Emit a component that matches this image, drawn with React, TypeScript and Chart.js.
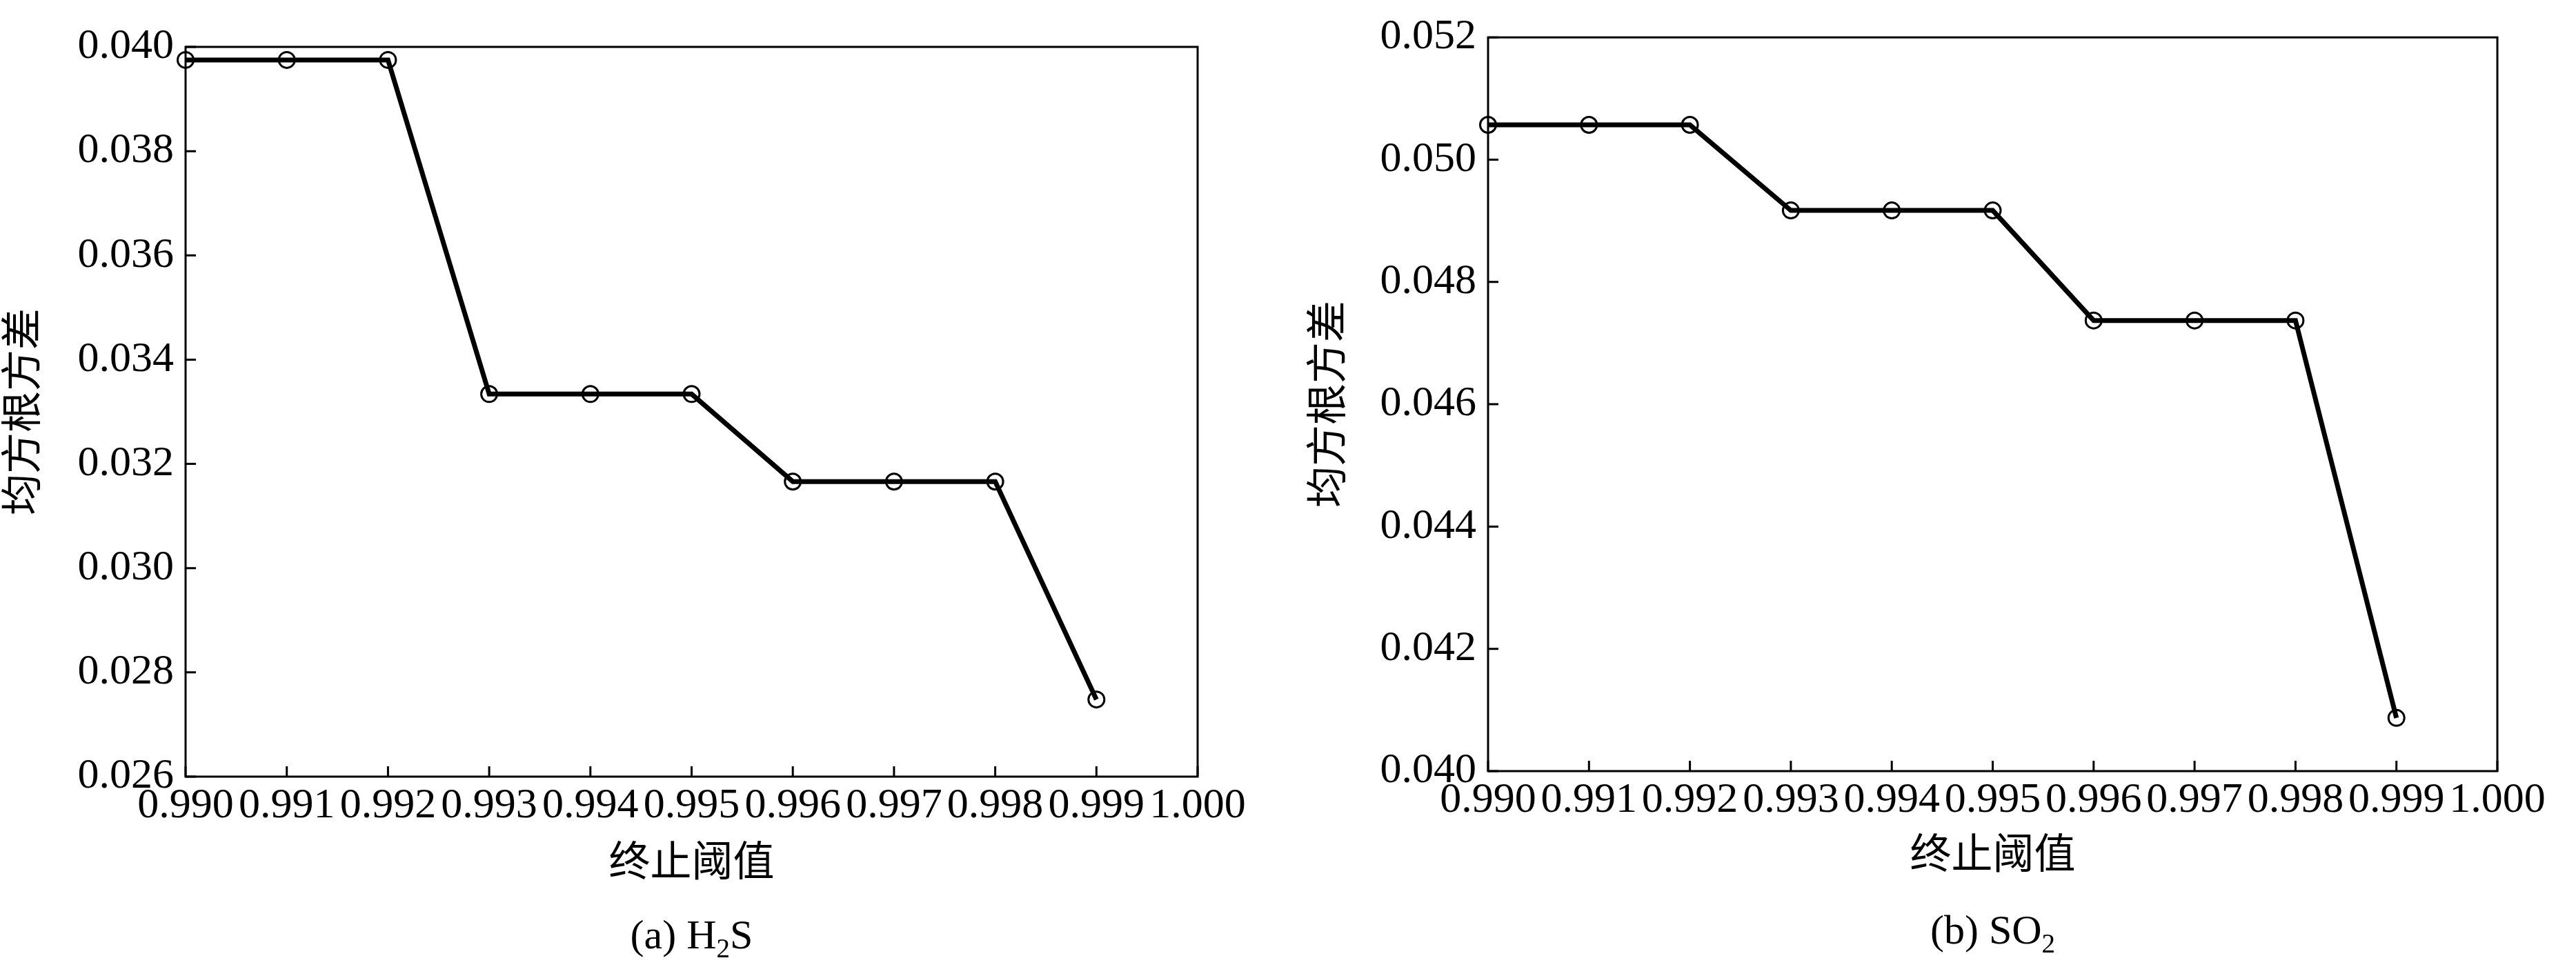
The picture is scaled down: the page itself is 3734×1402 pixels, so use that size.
import React, { useEffect, useRef } from "react";
import { Chart, registerables } from "chart.js";

Chart.register(...registerables);

// ---------- data ----------
const thresholds = [0.990, 0.991, 0.992, 0.993, 0.994, 0.995, 0.996, 0.997, 0.998, 0.999];
const h2sRmse = [0.03975, 0.03975, 0.03975, 0.03334, 0.03334, 0.03334, 0.03166, 0.03166, 0.03166, 0.02748];
const so2Rmse = [0.05057, 0.05057, 0.05057, 0.04917, 0.04917, 0.04917, 0.04737, 0.04737, 0.04737, 0.04087];
const xTicks = [0.990, 0.991, 0.992, 0.993, 0.994, 0.995, 0.996, 0.997, 0.998, 0.999, 1.000];
const h2sYTicks = [0.026, 0.028, 0.030, 0.032, 0.034, 0.036, 0.038, 0.040];
const so2YTicks = [0.040, 0.042, 0.044, 0.046, 0.048, 0.050, 0.052];
const xTitle = "终止阈值";
const yTitle = "均方根方差";
const captionA = [{ t: "(a) H" }, { t: "2", sub: true }, { t: "S" }];
const captionB = [{ t: "(b) SO" }, { t: "2", sub: true }];

const SERIF = '"Liberation Serif", "Times New Roman", serif';
const CJK = '"Noto Sans CJK SC", "Noto Sans", sans-serif';

const decorPlugin = {
  id: "decor",
  beforeDatasetsDraw(chart: any, _args: any, opts: any) {
    const { ctx, chartArea: a, scales } = chart;
    ctx.save();
    ctx.strokeStyle = "#000";
    ctx.lineWidth = opts.frameWidth;
    ctx.strokeRect(a.left, a.top, a.right - a.left, a.bottom - a.top);
    ctx.lineWidth = opts.tickWidth;
    ctx.beginPath();
    for (const t of scales.x.ticks) {
      const px = scales.x.getPixelForValue(t.value);
      ctx.moveTo(px, a.bottom);
      ctx.lineTo(px, a.bottom - opts.tickLength);
    }
    for (const t of scales.y.ticks) {
      const py = scales.y.getPixelForValue(t.value);
      ctx.moveTo(a.left, py);
      ctx.lineTo(a.left + opts.tickLength, py);
    }
    ctx.stroke();
    ctx.restore();
  },
  afterDraw(chart: any, _args: any, opts: any) {
    const { ctx, chartArea: a } = chart;
    const parts = opts.caption || [];
    ctx.save();
    ctx.fillStyle = "#000";
    ctx.textBaseline = "alphabetic";
    ctx.textAlign = "left";
    const mainFont = `${opts.captionSize}px ${SERIF}`;
    const subFont = `${Math.round(opts.captionSize * 0.65)}px ${SERIF}`;
    let total = 0;
    const widths = parts.map((p: any) => {
      ctx.font = p.sub ? subFont : mainFont;
      const w = ctx.measureText(p.t).width;
      total += w;
      return w;
    });
    let x = (a.left + a.right) / 2 - total / 2;
    parts.forEach((p: any, i: number) => {
      ctx.font = p.sub ? subFont : mainFont;
      const y = opts.captionBaseline + (p.sub ? opts.captionSize * 0.22 : 0);
      ctx.fillText(p.t, x, y);
      x += widths[i];
    });
    ctx.restore();
  },
};

type PanelProps = {
  values: number[];
  yTicks: number[];
  caption: { t: string; sub?: boolean }[];
  width: number;
  height: number;
  plotLeft: number;
  plotRight: number;
  plotTop: number;
  plotBottom: number;
  yTitleX: number;
  xTitleY: number;
  captionBaseline: number;
  left: number;
};

function Panel(p: PanelProps) {
  const ref = useRef<HTMLCanvasElement | null>(null);
  useEffect(() => {
    if (!ref.current) return;
    const titleSize = 60;
    const xScaleH = p.xTitleY + titleSize / 2 - p.plotBottom;
    const chart = new Chart(ref.current, {
      type: "line",
      data: {
        datasets: [
          {
            data: thresholds.map((x, i) => ({ x, y: p.values[i] })),
            borderColor: "#000",
            borderWidth: 7,
            backgroundColor: "rgba(0,0,0,0)",
            pointStyle: "circle",
            pointRadius: 11.5,
            pointBorderWidth: 3,
            pointBorderColor: "#000",
            pointBackgroundColor: "rgba(0,0,0,0)",
            tension: 0,
            fill: false,
            clip: false as any,
          },
        ],
      },
      options: {
        animation: false,
        responsive: false,
        devicePixelRatio: 1,
        events: [],
        layout: {
          padding: {
            left: 0,
            top: p.plotTop,
            right: p.width - p.plotRight,
            bottom: p.height - p.plotBottom - xScaleH,
          },
        },
        plugins: {
          legend: { display: false },
          tooltip: { enabled: false },
          decor: {
            frameWidth: 3,
            tickWidth: 3,
            tickLength: 15,
            caption: p.caption,
            captionSize: 60,
            captionBaseline: p.captionBaseline,
          },
        } as any,
        scales: {
          x: {
            type: "linear",
            min: xTicks[0],
            max: xTicks[xTicks.length - 1],
            afterBuildTicks: (s: any) => {
              s.ticks = xTicks.map((v) => ({ value: v }));
            },
            afterFit: (s: any) => {
              s.height = xScaleH;
            },
            grid: { display: false, drawTicks: false },
            border: { display: false },
            ticks: {
              color: "#000",
              font: { family: SERIF, size: 62 },
              padding: 6,
              autoSkip: false,
              maxRotation: 0,
              minRotation: 0,
              callback: (v: any) => Number(v).toFixed(3),
            },
            title: {
              display: true,
              text: xTitle,
              color: "#000",
              font: { family: CJK, size: titleSize, lineHeight: 1 },
              padding: { top: 0, bottom: 0 },
            },
          },
          y: {
            type: "linear",
            min: p.yTicks[0],
            max: p.yTicks[p.yTicks.length - 1],
            afterBuildTicks: (s: any) => {
              s.ticks = p.yTicks.map((v) => ({ value: v }));
            },
            afterFit: (s: any) => {
              s.width = p.plotLeft;
            },
            grid: { display: false, drawTicks: false },
            border: { display: false },
            ticks: {
              color: "#000",
              font: { family: SERIF, size: 62 },
              padding: 17,
              callback: (v: any) => Number(v).toFixed(3),
            },
            title: {
              display: true,
              text: yTitle,
              color: "#000",
              font: { family: CJK, size: titleSize, lineHeight: 1 },
              padding: { top: p.yTitleX - titleSize / 2, bottom: 0 },
            },
          },
        },
      },
      plugins: [decorPlugin as any],
    });
    return () => chart.destroy();
  }, []);
  return (
    <canvas
      ref={ref}
      width={p.width}
      height={p.height}
      style={{ position: "absolute", left: p.left, top: 0, width: p.width, height: p.height }}
    />
  );
}

export default function App() {
  return (
    <div
      style={{
        position: "absolute",
        left: 0,
        top: 0,
        width: 3734,
        height: 1402,
        background: "#fff",
        overflow: "hidden",
      }}
    >
      <Panel
        values={h2sRmse}
        yTicks={h2sYTicks}
        caption={captionA}
        left={0}
        width={1867}
        height={1402}
        plotLeft={269}
        plotRight={1736}
        plotTop={68}
        plotBottom={1126}
        yTitleX={30}
        xTitleY={1247}
        captionBaseline={1375}
      />
      <Panel
        values={so2Rmse}
        yTicks={so2YTicks}
        caption={captionB}
        left={1867}
        width={1867}
        height={1402}
        plotLeft={290}
        plotRight={1753}
        plotTop={29}
        plotBottom={1118}
        yTitleX={55}
        xTitleY={1236}
        captionBaseline={1368}
      />
    </div>
  );
}
